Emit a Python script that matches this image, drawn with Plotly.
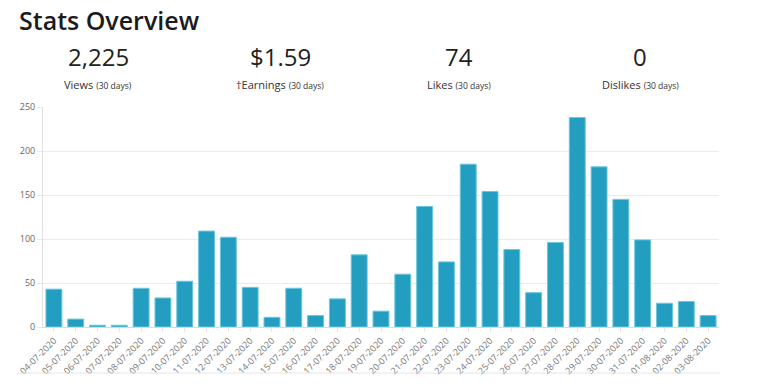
import plotly.graph_objects as go

dates = ["04-07-2020","05-07-2020","06-07-2020","07-07-2020","08-07-2020","09-07-2020","10-07-2020",
         "11-07-2020","12-07-2020","13-07-2020","14-07-2020","15-07-2020","16-07-2020","17-07-2020",
         "18-07-2020","19-07-2020","20-07-2020","21-07-2020","22-07-2020","23-07-2020","24-07-2020",
         "25-07-2020","26-07-2020","27-07-2020","28-07-2020","29-07-2020","30-07-2020","31-07-2020",
         "01-08-2020","02-08-2020","03-08-2020"]
views = [43, 9, 2, 2, 44, 33, 52, 109, 102, 45, 11, 44, 13, 32, 82, 18, 60, 137, 74, 185, 154,
         88, 39, 96, 238, 182, 145, 99, 27, 29, 13]

stat_values = ["2,225", "$1.59", "74", "0"]
stat_labels = ["Views", "\u2020Earnings", "Likes", "Dislikes"]
stat_centers = [98, 280, 459, 640]

W, H = 768, 387
L, R, T, B = 43, 49, 107, 60
pw, ph = W - L - R, H - T - B

def px(x):
    return (x - L) / pw

def py(y):
    return (H - B - y) / ph

FONT = "Open Sans, Noto Sans, sans-serif"

fig = go.Figure()
fig.add_trace(go.Bar(
    x=dates, y=views,
    marker=dict(color="#239ec0", line=dict(color="#6cc6de", width=1)),
    hoverinfo="x+y",
))

ann = [dict(x=px(17), y=py(20), xref="paper", yref="paper", text="Stats Overview",
            showarrow=False, xanchor="left", yanchor="middle",
            font=dict(family=FONT, size=25, color="#1b1b1b", weight=600))]
for v, lab, cx in zip(stat_values, stat_labels, stat_centers):
    ann.append(dict(x=px(cx), y=py(57), xref="paper", yref="paper", text=v,
                    showarrow=False, xanchor="center", yanchor="middle",
                    font=dict(family=FONT, size=24, color="#222222")))
    ann.append(dict(x=px(cx), y=py(85), xref="paper", yref="paper",
                    text=lab + " <span style='font-size:8.5px'>(30 days)</span>",
                    showarrow=False, xanchor="center", yanchor="middle",
                    font=dict(family=FONT, size=11, color="#333333")))

fig.update_layout(
    width=W, height=H,
    margin=dict(l=L, r=R, t=T, b=B, autoexpand=False),
    paper_bgcolor="white", plot_bgcolor="white",
    bargap=0.27,
    showlegend=False,
    annotations=ann,
    shapes=[dict(type="line", xref="paper", yref="paper", x0=px(18), x1=px(720),
                 y0=py(373), y1=py(373), line=dict(color="#e6e6e6", width=1))],
    font=dict(family=FONT),
)
fig.update_yaxes(range=[0, 250], dtick=50, showgrid=True, gridcolor="#ebebeb", gridwidth=1,
                 showline=True, linecolor="#e0e0e0", linewidth=1,
                 ticks="outside", ticklen=5, tickcolor="#ebebeb",
                 tickfont=dict(size=9, color="#666666", family=FONT), zeroline=False)
fig.update_xaxes(showgrid=False, showline=True, linecolor="#d9d9d9", linewidth=1,
                 tickangle=-45, ticks="outside", ticklen=4, tickcolor="#e6e6e6",
                 tickfont=dict(size=9, color="#777777", family=FONT))

fig.write_html("out.html", config={"displayModeBar": False},
               post_script="document.body.style.margin='0';document.body.style.overflow='hidden';")
